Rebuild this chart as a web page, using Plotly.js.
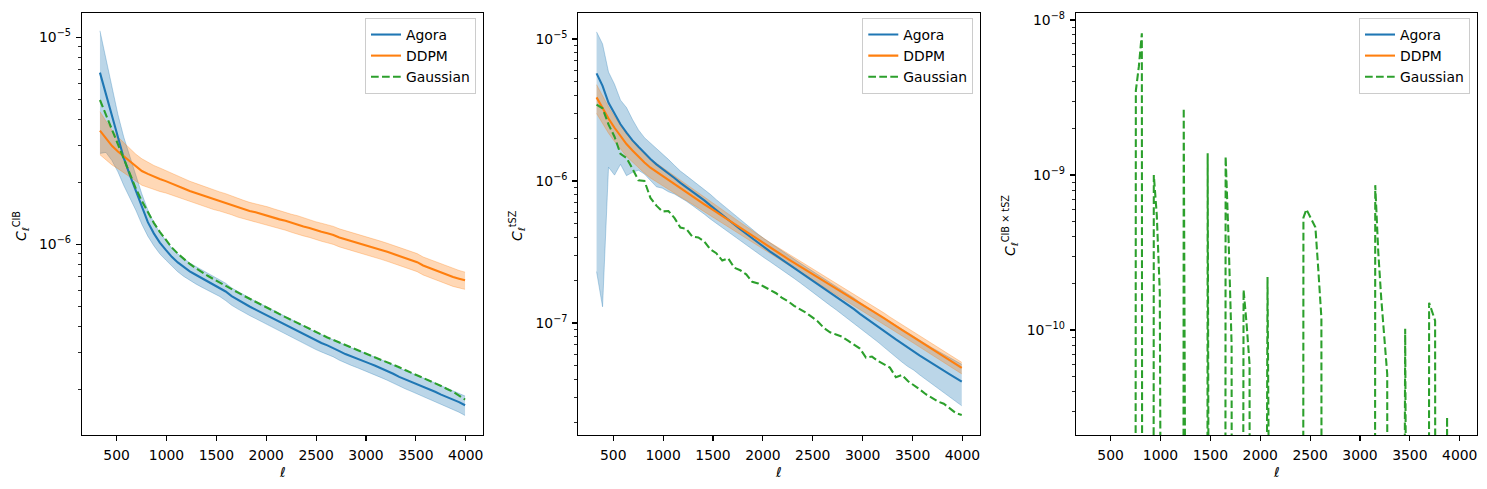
<!DOCTYPE html>
<html><head><meta charset="utf-8">
<script src="https://cdn.plot.ly/plotly-3.0.1.min.js"></script>
<style>html,body{margin:0;padding:0;background:#fff}#chart{width:1487px;height:489px}</style>
</head><body><div id="chart"></div>
<script>
// ---------------- data ----------------
const ell = [333,393,453,513,573,633,693,753,813,873,933,993,1053,1113,1173,1233,1293,1353,1413,1473,
 1533,1593,1653,1713,1773,1833,1893,1953,2013,2073,2133,2193,2253,2313,2373,2433,2493,2553,2613,2673,
 2733,2793,2853,2913,2973,3033,3093,3153,3213,3273,3333,3393,3453,3513,3573,3633,3693,3753,3813,3873,3933,3993];

// Panel 1: CIB
const agora_cib = [6.75e-6,5.28e-6,4.14e-6,3.24e-6,2.60e-6,2.16e-6,1.80e-6,1.50e-6,1.28e-6,1.13e-6,
 1.02e-6,9.4e-7,8.7e-7,8.18e-7,7.76e-7,7.41e-7,7.13e-7,6.87e-7,6.64e-7,6.41e-7,
 6.19e-7,5.92e-7,5.62e-7,5.40e-7,5.19e-7,5.01e-7,4.84e-7,4.68e-7,4.52e-7,4.37e-7,
 4.22e-7,4.07e-7,3.95e-7,3.82e-7,3.67e-7,3.55e-7,3.44e-7,3.34e-7,3.25e-7,3.16e-7,
 3.05e-7,2.95e-7,2.88e-7,2.81e-7,2.74e-7,2.66e-7,2.59e-7,2.52e-7,2.45e-7,2.37e-7,
 2.29e-7,2.23e-7,2.17e-7,2.11e-7,2.05e-7,2.00e-7,1.94e-7,1.88e-7,1.83e-7,1.78e-7,1.73e-7,1.67e-7];
const agora_cib_std = [4.0e-6,2.5e-6,1.6e-6,1.0e-6,6.8e-7,4.8e-7,3.4e-7,2.5e-7,1.85e-7,1.45e-7,
 1.2e-7,1.0e-7,8.7e-8,8.1e-8,7.6e-8,7.2e-8,6.9e-8,6.6e-8,6.3e-8,6.1e-8,
 5.9e-8,5.7e-8,5.4e-8,5.2e-8,5.0e-8,4.8e-8,4.6e-8,4.5e-8,4.3e-8,4.2e-8,
 4.0e-8,3.9e-8,3.8e-8,3.7e-8,3.5e-8,3.4e-8,3.3e-8,3.2e-8,3.1e-8,3.0e-8,
 2.95e-8,2.85e-8,2.8e-8,2.75e-8,2.7e-8,2.6e-8,2.55e-8,2.5e-8,2.45e-8,2.4e-8,
 2.3e-8,2.25e-8,2.2e-8,2.15e-8,2.1e-8,2.05e-8,2.0e-8,1.95e-8,1.9e-8,1.85e-8,1.85e-8,1.8e-8];
const ddpm_cib = [3.54e-6,3.24e-6,2.99e-6,2.81e-6,2.66e-6,2.51e-6,2.37e-6,2.26e-6,2.19e-6,2.12e-6,
 2.07e-6,2.02e-6,1.97e-6,1.91e-6,1.86e-6,1.81e-6,1.77e-6,1.73e-6,1.69e-6,1.65e-6,
 1.62e-6,1.59e-6,1.55e-6,1.51e-6,1.48e-6,1.45e-6,1.43e-6,1.40e-6,1.38e-6,1.35e-6,
 1.32e-6,1.30e-6,1.27e-6,1.25e-6,1.22e-6,1.20e-6,1.17e-6,1.15e-6,1.13e-6,1.11e-6,
 1.08e-6,1.06e-6,1.04e-6,1.02e-6,1.00e-6,9.8e-7,9.6e-7,9.4e-7,9.2e-7,9.0e-7,
 8.8e-7,8.6e-7,8.4e-7,8.2e-7,7.9e-7,7.7e-7,7.5e-7,7.3e-7,7.1e-7,6.95e-7,6.82e-7,6.7e-7];
const ddpm_cib_std = [8.3e-7,6.8e-7,5.7e-7,4.9e-7,4.4e-7,3.9e-7,3.55e-7,3.3e-7,3.05e-7,2.85e-7,
 2.7e-7,2.5e-7,2.4e-7,2.3e-7,2.2e-7,2.08e-7,2.0e-7,1.92e-7,1.86e-7,1.78e-7,
 1.72e-7,1.67e-7,1.61e-7,1.56e-7,1.51e-7,1.45e-7,1.43e-7,1.40e-7,1.38e-7,1.35e-7,
 1.32e-7,1.30e-7,1.27e-7,1.25e-7,1.22e-7,1.20e-7,1.17e-7,1.15e-7,1.13e-7,1.11e-7,
 1.08e-7,1.06e-7,1.04e-7,1.02e-7,1.0e-7,9.8e-8,9.6e-8,9.4e-8,9.2e-8,9.0e-8,
 8.8e-8,8.6e-8,8.4e-8,8.2e-8,7.9e-8,7.7e-8,7.5e-8,7.3e-8,7.1e-8,6.9e-8,6.6e-8,6.4e-8];
const gauss_cib = [4.98e-6,4.22e-6,3.56e-6,3.02e-6,2.57e-6,2.19e-6,1.86e-6,1.62e-6,1.43e-6,1.27e-6,
 1.15e-6,1.05e-6,9.66e-7,9.02e-7,8.51e-7,8.04e-7,7.67e-7,7.33e-7,7.05e-7,6.79e-7,
 6.53e-7,6.31e-7,6.07e-7,5.86e-7,5.65e-7,5.46e-7,5.27e-7,5.07e-7,4.90e-7,4.73e-7,
 4.57e-7,4.45e-7,4.31e-7,4.17e-7,4.03e-7,3.89e-7,3.76e-7,3.65e-7,3.55e-7,3.45e-7,
 3.36e-7,3.27e-7,3.18e-7,3.09e-7,3.01e-7,2.92e-7,2.84e-7,2.77e-7,2.69e-7,2.62e-7,
 2.55e-7,2.47e-7,2.40e-7,2.33e-7,2.26e-7,2.20e-7,2.13e-7,2.07e-7,2.00e-7,1.94e-7,1.86e-7,1.78e-7];

// Panel 2: tSZ
const agora_tsz = [5.73e-6,4.68e-6,3.55e-6,2.95e-6,2.51e-6,2.19e-6,1.93e-6,1.74e-6,1.57e-6,1.43e-6,
 1.31e-6,1.22e-6,1.13e-6,1.05e-6,9.7e-7,9.06e-7,8.43e-7,7.87e-7,7.30e-7,6.73e-7,
 6.21e-7,5.75e-7,5.33e-7,4.94e-7,4.57e-7,4.25e-7,3.94e-7,3.65e-7,3.40e-7,3.18e-7,
 2.98e-7,2.79e-7,2.61e-7,2.44e-7,2.28e-7,2.13e-7,2.00e-7,1.87e-7,1.75e-7,1.63e-7,
 1.53e-7,1.43e-7,1.34e-7,1.25e-7,1.16e-7,1.08e-7,1.01e-7,9.44e-8,8.81e-8,8.22e-8,
 7.67e-8,7.16e-8,6.68e-8,6.3e-8,5.9e-8,5.55e-8,5.2e-8,4.9e-8,4.61e-8,4.35e-8,4.09e-8,3.86e-8];
const agora_tsz_std = [5.5e-6,4.55e-6,2.3e-6,1.85e-6,1.2e-6,1.1e-6,7.8e-7,5.5e-7,4.5e-7,4.2e-7,
 4.0e-7,3.3e-7,2.9e-7,2.4e-7,2.05e-7,1.85e-7,1.7e-7,1.58e-7,1.46e-7,1.33e-7,
 1.18e-7,1.06e-7,9.6e-8,8.6e-8,7.8e-8,7.0e-8,6.3e-8,5.7e-8,5.2e-8,4.8e-8,
 4.5e-8,4.2e-8,4.0e-8,3.8e-8,3.6e-8,3.5e-8,3.4e-8,3.2e-8,3.1e-8,3.0e-8,
 2.9e-8,2.8e-8,2.7e-8,2.5e-8,2.35e-8,2.25e-8,2.15e-8,2.1e-8,2.05e-8,2.0e-8,
 1.93e-8,1.85e-8,1.75e-8,1.65e-8,1.6e-8,1.55e-8,1.5e-8,1.45e-8,1.4e-8,1.35e-8,1.3e-8,1.25e-8];
const ddpm_tsz = [3.88e-6,3.24e-6,2.75e-6,2.37e-6,2.07e-6,1.82e-6,1.64e-6,1.48e-6,1.35e-6,1.24e-6,
 1.16e-6,1.08e-6,1.01e-6,9.48e-7,8.89e-7,8.34e-7,7.8e-7,7.31e-7,6.85e-7,6.43e-7,
 6.03e-7,5.65e-7,5.30e-7,4.97e-7,4.66e-7,4.37e-7,4.09e-7,3.84e-7,3.59e-7,3.38e-7,
 3.18e-7,3.0e-7,2.82e-7,2.66e-7,2.51e-7,2.36e-7,2.22e-7,2.09e-7,1.97e-7,1.86e-7,
 1.75e-7,1.65e-7,1.55e-7,1.46e-7,1.38e-7,1.29e-7,1.22e-7,1.15e-7,1.08e-7,1.01e-7,
 9.51e-8,8.95e-8,8.41e-8,7.91e-8,7.43e-8,7.0e-8,6.58e-8,6.18e-8,5.81e-8,5.47e-8,5.14e-8,4.83e-8];
const ddpm_tsz_std = [8.9e-7,7.1e-7,5.8e-7,4.7e-7,3.9e-7,3.3e-7,2.8e-7,2.45e-7,2.15e-7,1.9e-7,
 1.75e-7,1.55e-7,1.41e-7,1.28e-7,1.16e-7,1.04e-7,9.4e-8,8.5e-8,7.7e-8,6.9e-8,
 6.3e-8,5.8e-8,5.3e-8,4.9e-8,4.5e-8,4.1e-8,3.8e-8,3.5e-8,3.2e-8,3.0e-8,
 2.9e-8,2.7e-8,2.5e-8,2.4e-8,2.25e-8,2.1e-8,2.0e-8,1.9e-8,1.8e-8,1.7e-8,
 1.6e-8,1.5e-8,1.4e-8,1.3e-8,1.25e-8,1.2e-8,1.1e-8,1.05e-8,9.8e-9,9.2e-9,
 8.6e-9,8.1e-9,7.6e-9,7.2e-9,6.8e-9,6.4e-9,6.0e-9,5.7e-9,5.3e-9,5.0e-9,4.7e-9,4.5e-9];
const gauss_tsz = [3.45e-6,3.25e-6,2.5e-6,2.05e-6,1.55e-6,1.45e-6,1.22e-6,1.01e-6,1.0e-6,7.6e-7,
 6.7e-7,6.1e-7,6.15e-7,5.5e-7,4.7e-7,4.6e-7,4.05e-7,4.0e-7,3.75e-7,3.3e-7,
 3.1e-7,2.75e-7,2.85e-7,2.45e-7,2.35e-7,2.2e-7,1.95e-7,1.9e-7,1.8e-7,1.7e-7,
 1.62e-7,1.5e-7,1.42e-7,1.32e-7,1.25e-7,1.18e-7,1.1e-7,1.02e-7,9.2e-8,8.6e-8,
 8.3e-8,8.0e-8,7.5e-8,7.0e-8,6.6e-8,5.7e-8,5.8e-8,5.4e-8,5.1e-8,4.85e-8,
 4.15e-8,4.3e-8,3.9e-8,3.65e-8,3.4e-8,3.15e-8,2.95e-8,2.8e-8,2.7e-8,2.5e-8,2.32e-8,2.25e-8];

// Panel 3: CIB x tSZ (finer multipole grid; negative values fall off the log axis)
const ell_cross = [333,363,393,423,453,483,513,543,573,603,633,663,693,723,753,783,813,843,873,903,
 933,963,993,1023,1053,1083,1113,1143,1173,1203,1233,1263,1293,1323,1353,1383,1413,1443,1473,1503,
 1533,1563,1593,1623,1653,1683,1713,1743,1773,1803,1833,1863,1893,1923,1953,1983,2013,2043,2073,2103,
 2133,2163,2193,2223,2253,2283,2313,2343,2373,2403,2433,2463,2493,2523,2553,2583,2613,2643,2673,2703,
 2733,2763,2793,2823,2853,2883,2913,2943,2973,3003,3033,3063,3093,3123,3153,3183,3213,3243,3273,3303,
 3333,3363,3393,3423,3453,3483,3513,3543,3573,3603,3633,3663,3693,3723,3753,3783,3813,3843,3873,3903,
 3933,3963,3993];
const gauss_cross = [-1e-10,-1e-10,-1e-10,-1e-10,-1e-10,-1e-10,-1e-10,-1e-10,-1e-10,-1e-10,
 -1e-10,-1e-10,-1e-10,-1e-10,3.5e-9,5.0e-9,8.2e-9,-1e-10,-1e-10,-1e-10,
 1.0e-9,5.5e-10,1.75e-10,-1e-10,-1e-10,-1e-10,-1e-10,-1e-10,-1e-10,-1e-10,
 2.7e-9,-1e-10,-1e-10,-1e-10,-1e-10,-1e-10,-1e-10,-1e-10,1.38e-9,-1e-10,
 -1e-10,-1e-10,-1e-10,-1e-10,1.32e-9,3.8e-10,8e-11,-1e-10,-1e-10,-1e-10,
 1.82e-10,1.1e-10,6e-11,-1e-10,-1e-10,-1e-10,-1e-10,-1e-10,2.2e-10,-1e-10,
 -1e-10,-1e-10,-1e-10,-1e-10,-1e-10,-1e-10,-1e-10,-1e-10,-1e-10,-1e-10,
 5.3e-10,6.0e-10,5.5e-10,5.0e-10,4.6e-10,2.4e-10,1.2e-10,-1e-10,-1e-10,-1e-10,
 -1e-10,-1e-10,-1e-10,-1e-10,-1e-10,-1e-10,-1e-10,-1e-10,-1e-10,-1e-10,
 -1e-10,-1e-10,-1e-10,-1e-10,8.6e-10,3.2e-10,1.6e-10,9e-11,5.2e-11,-1e-10,
 -1e-10,-1e-10,-1e-10,-1e-10,1.02e-10,-1e-10,-1e-10,-1e-10,-1e-10,-1e-10,
 -1e-10,-1e-10,1.5e-10,1.3e-10,1.15e-10,-1e-10,-1e-10,-1e-10,2.75e-11,-1e-10,
 -1e-10,-1e-10,-1e-10];
// Agora and DDPM cross spectra never rise above zero on the shown range (nothing visible)
const ell_cross_ends = [333, 3993];
const agora_cross = [-1e-10, -1e-10];
const ddpm_cross = [-1e-10, -1e-10];

const xTicks = [500,1000,1500,2000,2500,3000,3500,4000];
const seriesNames = ['Agora','DDPM','Gaussian'];

// ---------------- styling ----------------
const C0 = '#1f77b4', C1 = '#ff7f0e', C2 = '#2ca02c';
const A0 = 'rgba(31,119,180,0.3)', A1 = 'rgba(255,127,14,0.3)';
const FONT = 'DejaVu Sans, Liberation Sans, sans-serif';
const FS = 13.9;
const W = 1487, H = 489;
const LW = 2.08;
const DASH = '7.7px,3.3px';

const sub = (m,s) => m.map((v,i)=>v-s[i]);
const add = (m,s) => m.map((v,i)=>v+s[i]);
const clipLog = a => a.map(v => v > 0 ? v : 1e-40);   // matplotlib-like clipping of non-positive values

function panelTraces(x, series, xa, ya, leg) {
  const t = [];
  series.bands.forEach(b => {
    t.push({x, y: sub(b.m,b.s), xaxis:xa, yaxis:ya, mode:'lines', line:{color:b.a, width:1},
            showlegend:false, hoverinfo:'skip'});
    t.push({x, y: add(b.m,b.s), xaxis:xa, yaxis:ya, mode:'lines', line:{color:b.a, width:1},
            fill:'tonexty', fillcolor:b.a, showlegend:false, hoverinfo:'skip'});
  });
  series.lines.forEach(l => {
    t.push({x: l.x || x, y: clipLog(l.y), name: l.name, xaxis:xa, yaxis:ya, mode:'lines',
            line:{color:l.c, width:LW, dash: l.dash || 'solid'}, legend: leg, showlegend:true});
  });
  return t;
}

const traces = [
  ...panelTraces(ell, {
    bands:[{m:agora_cib, s:agora_cib_std, a:A0},{m:ddpm_cib, s:ddpm_cib_std, a:A1}],
    lines:[{y:agora_cib, c:C0, name:seriesNames[0]},{y:ddpm_cib, c:C1, name:seriesNames[1]},
           {y:gauss_cib, c:C2, name:seriesNames[2], dash:DASH}]
  }, 'x', 'y', 'legend'),
  ...panelTraces(ell, {
    bands:[{m:agora_tsz, s:agora_tsz_std, a:A0},{m:ddpm_tsz, s:ddpm_tsz_std, a:A1}],
    lines:[{y:agora_tsz, c:C0, name:seriesNames[0]},{y:ddpm_tsz, c:C1, name:seriesNames[1]},
           {y:gauss_tsz, c:C2, name:seriesNames[2], dash:DASH}]
  }, 'x2', 'y2', 'legend2'),
  ...panelTraces(ell_cross, {
    bands:[],
    lines:[{x:ell_cross_ends, y:agora_cross, c:C0, name:seriesNames[0]},
           {x:ell_cross_ends, y:ddpm_cross, c:C1, name:seriesNames[1]},
           {y:gauss_cross, c:C2, name:seriesNames[2], dash:DASH}]
  }, 'x3', 'y3', 'legend3')
];

function minorVals(lo, hi) {
  const v = [];
  for (let d = Math.floor(lo); d <= Math.ceil(hi); d++)
    for (let m = 2; m <= 9; m++) { const val = m * Math.pow(10, d); const l = Math.log10(val); if (l > lo && l < hi) v.push(val); }
  return v;
}
function decadeTicks(lo, hi) {
  const vals = [], txt = [];
  for (let d = Math.ceil(lo); d <= Math.floor(hi); d++) { vals.push(Math.pow(10,d)); txt.push('10<sup>−' + (-d) + '</sup>'); }
  return {vals, txt};
}

const yTop = 1 - 13.3/H, yBot = 1 - 435/H;
function xAxis(l, r, anchor) {
  return {domain:[l/W, r/W], range:[150, 4176], tickmode:'array', tickvals:xTicks, ticktext:xTicks.map(String),
    ticks:'outside', ticklen:4.86, tickwidth:1.1, tickcolor:'#000', showline:true, linecolor:'#000', linewidth:1.1,
    mirror:true, showgrid:false, zeroline:false, anchor:anchor, ticklabelstandoff:2,
    tickfont:{family:FONT, size:FS, color:'#000'}};
}
function yAxis(lo, hi, anchor) {
  const t = decadeTicks(lo, hi);
  return {domain:[yBot, yTop], type:'log', range:[lo, hi], tickmode:'array', tickvals:t.vals, ticktext:t.txt,
    ticks:'outside', ticklen:4.86, tickwidth:1.1, tickcolor:'#000', showline:true, linecolor:'#000', linewidth:1.1,
    mirror:true, showgrid:false, zeroline:false, anchor:anchor, ticklabelstandoff:2,
    minor:{tickmode:'array', tickvals:minorVals(lo, hi), ticks:'outside', ticklen:2.78, tickwidth:0.83, tickcolor:'#000', showgrid:false},
    tickfont:{family:FONT, size:FS, color:'#000'}};
}
function legendAt(rightPx) {
  return {x: rightPx/W, xanchor:'right', y: 1 - 18/H, yanchor:'top', bgcolor:'rgba(255,255,255,0.8)',
    bordercolor:'#cccccc', borderwidth:1, traceorder:'normal', tracegroupgap:0,
    font:{family:FONT, size:FS, color:'#000'}};
}
function ann(text, xpx, ypx, angle) {
  return {text, xref:'paper', yref:'paper', x: xpx/W, y: 1 - ypx/H, xanchor:'center', yanchor:'middle',
    showarrow:false, textangle: angle || 0, font:{family:FONT, size:FS, color:'#000'}};
}

const layout = {
  width: W, height: H, margin:{l:0, r:0, t:0, b:0}, paper_bgcolor:'#fff', plot_bgcolor:'#fff',
  showlegend:true,
  xaxis: xAxis(81.7, 483.3, 'y'), yaxis: yAxis(-6.921, -4.884, 'x'),
  xaxis2: xAxis(578.3, 980, 'y2'), yaxis2: yAxis(-7.789, -4.819, 'x2'),
  xaxis3: xAxis(1075.7, 1477.3, 'y3'), yaxis3: yAxis(-10.677, -7.957, 'x3'),
  legend: legendAt(476), legend2: legendAt(973.3), legend3: legendAt(1470),
  annotations: [
    ann('<i>ℓ</i>', 282.5, 472), ann('<i>ℓ</i>', 779, 472), ann('<i>ℓ</i>', 1276.5, 472),
    ann('<i>C</i><sub>ℓ</sub><sup>CIB</sup>', 21, 226, -90),
    ann('<i>C</i><sub>ℓ</sub><sup>tSZ</sup>', 517, 226, -90),
    ann('<i>C</i><sub>ℓ</sub><sup>CIB × tSZ</sup>', 1010, 226, -90)
  ]
};

Plotly.newPlot('chart', traces, layout, {displayModeBar:false, staticPlot:true});
</script></body></html>
